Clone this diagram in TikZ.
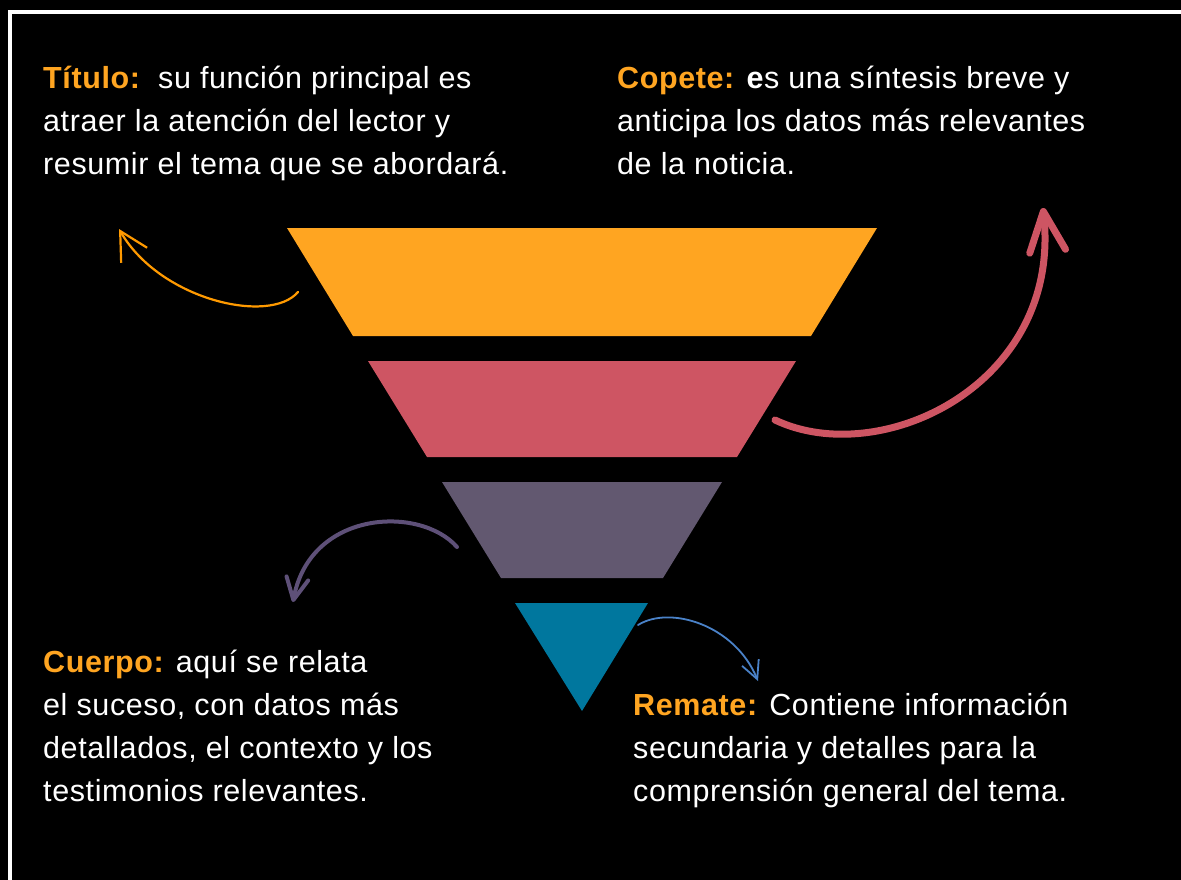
\documentclass[tikz,border=0pt]{standalone}
\usepackage{fontspec}
\setmainfont[LetterSpace=2]{Liberation Sans}
\usetikzlibrary{arrows.meta}
\definecolor{naranja}{HTML}{FFA521}
\definecolor{rojo}{HTML}{CE5563}
\definecolor{violeta}{HTML}{625870}
\definecolor{azul}{HTML}{00779E}
\definecolor{fnaranja}{HTML}{FF9A00}
\definecolor{fvioleta}{HTML}{5E5078}
\definecolor{fazul}{HTML}{4A82C8}
\newcommand{\etiq}[1]{\textbf{\textcolor{naranja}{#1}}}
\tikzset{
  nota/.style={text=white, align=left, inner sep=0pt, anchor=base west,
    font={\fontsize{30.5}{43}\selectfont}},
  flecha/.style={line cap=round, line join=round}
}
\begin{document}
\begin{tikzpicture}[x=1pt,y=-1pt]
      \useasboundingbox (0,0) rectangle (1181,880);
      \fill[black] (0,0) rectangle (1181,880);
      \draw[white, line width=4pt] (1181,12.5) -- (9.7,12.5) -- (9.7,880);
      % capas
      \fill[naranja] (287,228) -- (877,228) -- (811,336) -- (353,336) -- cycle;
      \fill[rojo] (368,361) -- (796,361) -- (737,457) -- (427,457) -- cycle;
      \fill[violeta] (442,482) -- (722,482) -- (663,578) -- (501,578) -- cycle;
      \fill[azul] (515,603) -- (648,603) -- (582,711) -- cycle;
      % textos (base = ultima linea)
      \node[nota] (titulo) at (43,175)
        {\etiq{Título:}\ \ su función principal es\\atraer la atención del lector y\\resumir el tema que se abordará.};
      \node[nota] (copete) at (617,175)
        {\etiq{Copete:} \textbf{e}s una síntesis breve y\\anticipa los datos más relevantes\\de la noticia.};
      \node[nota] (cuerpo) at (43,801)
        {\etiq{Cuerpo:} aquí se relata\\el suceso, con datos más\\detallados, el contexto y los\\testimonios relevantes.};
      \node[nota] (remate) at (633,801)
        {\etiq{Remate:} Contiene información\\secundaria y detalles para la\\comprensión general del tema.};
      % flechas
      \coordinate (a1) at (298,292);
      \coordinate (b1) at (119,229);
      \coordinate (a2) at (775,420);
      \coordinate (b2) at (1043,208);
      \coordinate (a3) at (457,547);
      \coordinate (b3) at (293,602);
      \coordinate (a4) at (638,625);
      \coordinate (b4) at (758,681);
      \begin{scope}[flecha]
        \draw[fnaranja, line width=2.2pt, -{Straight Barb[length=28pt,width=30pt]}]
          (a1) .. controls (270,325) and (160,300) .. (b1);
        \draw[rojo, line width=7pt, -{Straight Barb[length=40pt,width=36pt,round]}]
          (a2) .. controls (880,470) and (1062,385) .. (b2);
        \draw[fvioleta, line width=4pt, -{Straight Barb[length=22pt,width=22pt,round]}]
          (a3) .. controls (420,505) and (310,510) .. (b3);
        \draw[fazul, line width=1.8pt, -{Straight Barb[length=18pt,width=18pt]}]
          (a4) .. controls (670,605) and (735,625) .. (b4);
      \end{scope}
    \end{tikzpicture}
\end{document}
